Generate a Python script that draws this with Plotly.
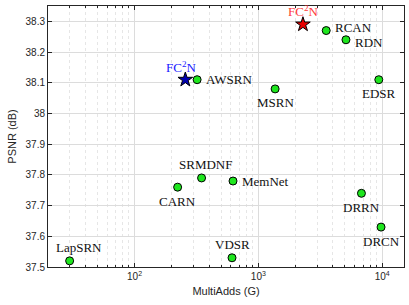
import math
import plotly.graph_objects as go

# data
names = ["LapSRN", "CARN", "SRMDNF", "MemNet", "VDSR", "DRRN", "DRCN",
         "AWSRN", "MSRN", "RCAN", "RDN", "EDSR"]
multiadds = [29.9, 222.8, 347.7, 623.9, 612.6, 6796.9, 9788.7,
             320.0, 1365.0, 3530.0, 5096.2, 9384.0]
psnr = [37.52, 37.76, 37.79, 37.78, 37.53, 37.74, 37.63,
        38.11, 38.08, 38.27, 38.24, 38.11]
label_pos = ["top", "bottom", "top", "right", "top", "bottom", "bottom",
             "right", "bottom", "right", "right", "bottom"]

ours_name = "FC<sup>2</sup>N"
ours_x = [257.0, 2290.0]
ours_y = [38.11, 38.29]
ours_colors = ["#1a1aff", "#ff3a3a"]
star_colors = ["#0000b0", "#e80000"]

y_ticks = [37.5, 37.6, 37.7, 37.8, 37.9, 38.0, 38.1, 38.2, 38.3]
y_ticktext = ["37.5", "37.6", "37.7", "37.8", "37.9", "38", "38.1", "38.2", "38.3"]
x_ticks = [100, 1000, 10000]
x_ticktext = ["10<sup>2</sup>", "10<sup>3</sup>", "10<sup>4</sup>"]
x_minor = [m * 10 ** e for e in (1, 2, 3, 4) for m in range(2, 10) if 20 <= m * 10 ** e <= 15000]

serif = "Liberation Serif, Times New Roman, serif"
fig = go.Figure()

fig.add_trace(go.Scatter(
    x=multiadds, y=psnr, mode="markers",
    marker=dict(color="#1ee61e", size=8, line=dict(color="black", width=1)),
    showlegend=False, hoverinfo="skip"))

fig.add_trace(go.Scatter(
    x=ours_x, y=ours_y, mode="markers",
    marker=dict(symbol="star", color=star_colors, size=11, line=dict(color="black", width=1)),
    showlegend=False, hoverinfo="skip"))

offsets = {"top": (0, 13, "center", "middle"), "bottom": (0, -14, "center", "middle"),
           "right": (7, 0, "left", "middle")}
for n, x, y, p in zip(names, multiadds, psnr, label_pos):
    dx, dy, xa, ya = offsets[p]
    if n == "LapSRN":
        dx = 9
    if n == "SRMDNF":
        dx = 4
    if n == "RCAN":
        dy = 3
    if n == "RDN":
        dy = -3
    fig.add_annotation(x=math.log10(x), y=y, xref="x", yref="y", text=n, showarrow=False,
                       xshift=dx, yshift=dy, xanchor=xa, yanchor=ya,
                       font=dict(family=serif, size=13, color="#111111"))

for x, y, c, dx in zip(ours_x, ours_y, ours_colors, [-4, 0]):
    fig.add_annotation(x=math.log10(x), y=y, xref="x", yref="y", text=ours_name, showarrow=False,
                       xshift=dx, yshift=13, xanchor="center", yanchor="middle",
                       font=dict(family=serif, size=13, color=c))

axis_common = dict(showline=True, linecolor="#262626", linewidth=1, mirror="ticks",
                   ticks="inside", ticklen=4, tickcolor="#262626", automargin=False,
                   gridcolor="#dcdcdc", gridwidth=1, zeroline=False,
                   tickfont=dict(family="Liberation Sans", size=10, color="#262626"))

fig.update_xaxes(type="log", range=[1.301, 4.176], tickvals=x_ticks, ticktext=x_ticktext,
                 title=dict(text="MultiAdds (G)", font=dict(family="Liberation Sans", size=11, color="#262626"),
                            standoff=6),
                 minor=dict(tickvals=x_minor, ticks="inside", ticklen=2, tickcolor="#262626",
                            showgrid=True, gridcolor="#e6e6e6", griddash="dot"),
                 **axis_common)
fig.update_yaxes(range=[37.5, 38.35], tickvals=y_ticks, ticktext=y_ticktext,
                 title=dict(text="PSNR (dB)", font=dict(family="Liberation Sans", size=11, color="#262626"),
                            standoff=6),
                 **axis_common)

fig.update_layout(width=409, height=305, margin=dict(l=48, r=5, t=6, b=38),
                  plot_bgcolor="white", paper_bgcolor="white")

fig.write_html("out.html", config={"displayModeBar": False},
               post_script="document.body.style.margin='0';document.body.style.overflow='hidden';")
